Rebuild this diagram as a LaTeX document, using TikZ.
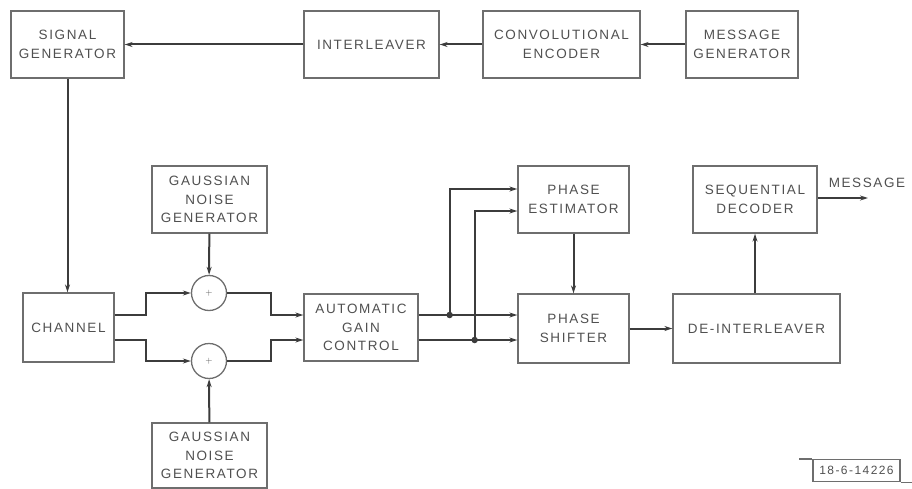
\documentclass[tikz,border=0pt]{standalone}
\usepackage{fontspec}
\newfontfamily\lblfont[LetterSpace=12]{Liberation Sans}
\usetikzlibrary{arrows.meta, positioning, calc}
\definecolor{boxline}{HTML}{6E6E6E}
\definecolor{wire}{HTML}{3C3C3C}
\definecolor{ink}{HTML}{505050}

\begin{document}
\begin{tikzpicture}[
    x=1pt, y=-1pt,
    block/.style={rectangle, draw=boxline, line width=1.3pt, align=center, minimum height=67pt, text=ink, font=\lblfont\fontsize{13.5}{18.5}\selectfont},
    adder/.style={circle, draw=boxline, line width=1.3pt, minimum size=35pt, inner sep=0pt, text=ink, font=\sffamily\small},
    arrow/.style={draw=wire, line width=2pt, -{Stealth[length=8pt, width=5pt]}},
    junction/.style={circle, fill=wire, inner sep=0pt, minimum size=6.5pt}
]
\useasboundingbox (0,0) rectangle (912,489);

% Nodes
\node[block, minimum width=113pt] (siggen) at (67.5,44.5) {SIGNAL\\GENERATOR};
\node[block, minimum width=135pt] (interlv) at (371.5,44.5) {INTERLEAVER};
\node[block, minimum width=157pt] (convenc) at (561.5,44.5) {CONVOLUTIONAL\\ENCODER};
\node[block, minimum width=112pt] (msggen) at (742,44.5) {MESSAGE\\GENERATOR};

\node[block, minimum width=91pt, minimum height=69pt] (channel) at (68.5,327.5) {CHANNEL};
\node[block, minimum width=115pt] (noisetop) at (209.5,199.5) {GAUSSIAN\\NOISE\\GENERATOR};
\node[adder] (addtop) at (209,293) {+};
\node[adder] (addbot) at (209,361) {+};
\node[block, minimum width=115pt, minimum height=65pt] (noisebot) at (209.5,455.5) {GAUSSIAN\\NOISE\\GENERATOR};
\node[block, minimum width=114pt] (agc) at (361,327.5) {AUTOMATIC\\GAIN\\CONTROL};

\node[block, minimum width=111pt] (phest) at (573.5,199.5) {PHASE\\ESTIMATOR};
\node[block, minimum width=111pt, minimum height=69pt] (phshift) at (573.5,328.5) {PHASE\\SHIFTER};
\node[block, minimum width=124pt] (seqdec) at (755,199.5) {SEQUENTIAL\\DECODER};
\node[block, minimum width=167pt, minimum height=69pt] (deint) at (756.5,328.5) {DE-INTERLEAVER};

\coordinate (msgout) at (868,198);
\node[text=ink, font=\lblfont\fontsize{13.5}{15}\selectfont] (msglbl) at (867,183) {MESSAGE};

\node[draw=boxline, line width=1.3pt, minimum width=87pt, minimum height=22pt, inner sep=0pt, text=ink, font=\lblfont\fontsize{12}{14}\selectfont] (tag) at (856.5,470.5) {18-6-14226};

% Arrows
\draw[arrow] (msggen) -- (convenc);
\draw[arrow] (convenc) -- (interlv);
\draw[arrow] (interlv) -- (siggen);
\draw[arrow] (siggen.south) -- (siggen.south |- channel.north);

\draw[arrow] ([yshift=12.5pt]channel.east) -- ++(31,0) |- (addtop.west);
\draw[arrow] ([yshift=-12.5pt]channel.east) -- ++(31,0) |- (addbot.west);
\draw[arrow] (noisetop) -- (addtop);
\draw[arrow] (noisebot) -- (addbot);
\draw[arrow] (addtop.east) -- ++(44,0) |- ([yshift=12.5pt]agc.west);
\draw[arrow] (addbot.east) -- ++(44,0) |- ([yshift=-12.5pt]agc.west);

\coordinate (jtop) at ([xshift=31pt, yshift=12.5pt]agc.east);
\coordinate (jbot) at ([xshift=56pt, yshift=-12.5pt]agc.east);
\draw[arrow] ([yshift=12.5pt]agc.east) -- ([yshift=12.5pt]agc.east -| phshift.west);
\draw[arrow] ([yshift=-12.5pt]agc.east) -- ([yshift=-12.5pt]agc.east -| phshift.west);
\draw[arrow] (jtop) |- ([yshift=10.5pt]phest.west);
\draw[arrow] (jbot) |- ([yshift=-11.5pt]phest.west);
\node[junction] at (jtop) {};
\node[junction] at (jbot) {};

\draw[arrow] (phest) -- (phshift);
\draw[arrow] (phshift) -- (deint);
\draw[arrow] (seqdec.south |- deint.north) -- (seqdec.south);
\draw[arrow] (seqdec.east |- msgout) -- (msgout);

\draw[draw=boxline, line width=1.3pt] (tag.north west) -- ++(-13,0);
\draw[draw=boxline, line width=1.3pt] (tag.south east) -- ++(12,0);

\end{tikzpicture}
\end{document}
